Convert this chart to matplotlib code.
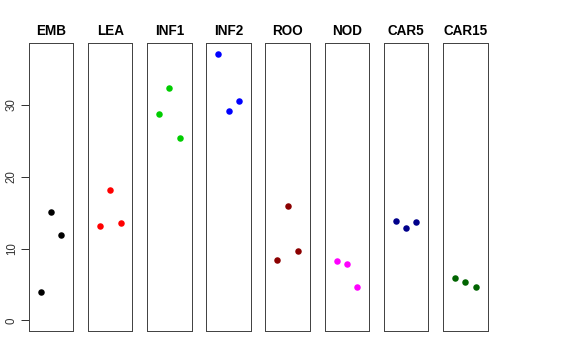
import matplotlib
matplotlib.use('Agg')
import matplotlib.pyplot as plt

plt.rcParams['font.family'] = ['Liberation Sans', 'DejaVu Sans']

# tissues, one panel each
tissues = ['EMB', 'LEA', 'INF1', 'INF2', 'ROO', 'NOD', 'CAR5', 'CAR15']
colours = ['black', 'red', '#00CD00', 'blue', '#8B0000', 'magenta', '#00008B', '#006400']

# three replicate values per tissue
reps = [1, 2, 3]
emb = [3.9, 15.1, 11.9]
lea = [13.1, 18.2, 13.5]
inf1 = [28.7, 32.3, 25.4]
inf2 = [37.1, 29.1, 30.6]
roo = [8.4, 15.9, 9.6]
nod = [8.2, 7.8, 4.7]
car5 = [13.9, 12.8, 13.7]
car15 = [5.9, 5.3, 4.6]
values = [emb, lea, inf1, inf2, roo, nod, car5, car15]

yticks = [0, 10, 20, 30]

W, H = 576, 360
fig = plt.figure(figsize=(W / 72, H / 72), dpi=72)

# panel geometry in pixels
left0 = 28.7
step = 59.19
pw = 44.6
bottom = H - 331.0
ph = 331.0 - 43.3

ymax = max(max(v) for v in values)
pad = ymax * 0.04

for i, name in enumerate(tissues):
    ax = fig.add_axes([(left0 + i * step) / W, bottom / H, pw / W, ph / H])
    ax.plot(reps, values[i], 'o', color=colours[i], markersize=6.5, markeredgewidth=0)
    ax.set_xlim(-0.16, 4.16)
    ax.set_ylim(-pad, ymax + pad)
    ax.set_xticks([])
    for s in ax.spines.values():
        s.set_color('#444444')
        s.set_linewidth(1)
    ax.set_title(name, fontsize=13.5, fontweight='bold', pad=8)
    if i == 0:
        ax.set_yticks(yticks)
        ax.set_yticklabels([str(t) for t in yticks], rotation=90, va='center')
        ax.tick_params(axis='y', length=8, width=0.8, pad=3, labelsize=11.5, colors='black')
        for lbl in ax.get_yticklabels():
            lbl.set_color('#333333')
    else:
        ax.set_yticks([])

fig.savefig('out.png', dpi=72)
